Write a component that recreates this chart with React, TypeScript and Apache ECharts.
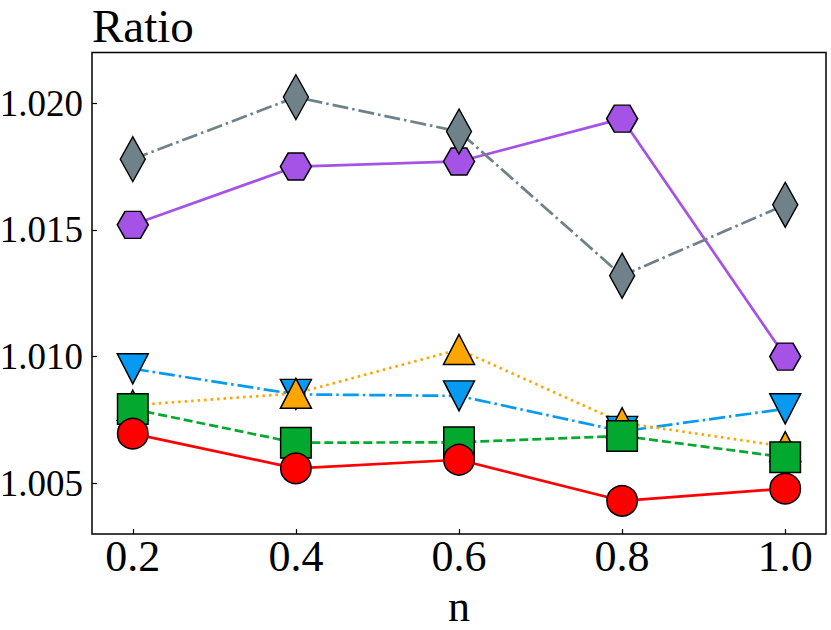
import React, { useEffect, useRef } from "react";
import * as echarts from "echarts";

const xValues = [0.2, 0.4, 0.6, 0.8, 1.0];
const redCircle = [1.00696, 1.00559, 1.00593, 1.00431, 1.00479];
const greenSquare = [1.00793, 1.0066, 1.00662, 1.00687, 1.00603];
const orangeTriUp = [1.00808, 1.00855, 1.01028, 1.00739, 1.00645];
const blueTriDown = [1.00952, 1.00851, 1.00845, 1.00705, 1.00794];
const purpleHex = [1.0152, 1.0175, 1.0177, 1.01939, 1.01];
const grayDiamond = [1.01779, 1.02024, 1.01888, 1.01319, 1.01599];

const xTicks = [0.2, 0.4, 0.6, 0.8, 1.0];
const yTicks = [1.005, 1.01, 1.015, 1.02];

const FONT = "'Liberation Serif', 'DejaVu Serif', serif";

const TRI_UP = "path://M1,0 L2,2 L0,2 Z";
const TRI_DOWN = "path://M0,0 L2,0 L1,2 Z";
const HEX = "path://M0,0.866 L0.5,0 L1.5,0 L2,0.866 L1.5,1.732 L0.5,1.732 Z";

function pairs(ys: number[]) {
  return ys.map((y, i) => [xValues[i], y]);
}

export default function App() {
  const ref = useRef<HTMLDivElement>(null);
  useEffect(() => {
    if (!ref.current) return;
    const chart = echarts.init(ref.current, undefined, { renderer: "svg" });
    const border = { borderColor: "#000", borderWidth: 1.5 };
    const mk = (
      name: string,
      data: number[],
      color: string,
      symbol: string,
      size: number | number[],
      type: any,
    ) => ({
      name,
      type: "line",
      data: pairs(data),
      symbol,
      symbolSize: size,
      showSymbol: true,
      clip: false,
      lineStyle: { color, width: 2.7, type },
      itemStyle: { color, ...border },
      emphasis: { disabled: true },
    });
    chart.setOption({
      animation: false,
      backgroundColor: "#fff",
      grid: {
        left: 92,
        top: 52.5,
        right: 5,
        bottom: 96,
        containLabel: false,
        outerBoundsMode: "none",
        show: true,
        borderColor: "#000",
        borderWidth: 1.5,
        backgroundColor: "transparent",
      },
      xAxis: {
        type: "value",
        min: 0.15,
        max: 1.05,
        name: "n",
        nameLocation: "middle",
        nameGap: 72.3,
        nameMoveOverlap: false,
        nameTextStyle: {
          fontFamily: FONT,
          fontSize: 44,
          color: "#000",
          verticalAlign: "middle",
        },
        axisLine: { show: false },
        axisTick: {
          show: true,
          inside: true,
          length: 5,
          customValues: xTicks,
          lineStyle: { color: "#000", width: 1.2 },
        },
        axisLabel: {
          customValues: xTicks,
          formatter: (v: number) => v.toFixed(1),
          fontFamily: FONT,
          fontSize: 44,
          color: "#000",
          margin: 0,
        },
        splitLine: { show: false },
      },
      yAxis: {
        type: "value",
        min: 1.003,
        max: 1.022,
        name: "Ratio",
        nameLocation: "end",
        nameGap: 26.4,
        nameMoveOverlap: false,
        nameTextStyle: {
          fontFamily: FONT,
          fontSize: 47,
          color: "#000",
          align: "left",
          verticalAlign: "middle",
        },
        axisLine: { show: false },
        axisTick: {
          show: true,
          inside: true,
          length: 5,
          customValues: yTicks,
          lineStyle: { color: "#000", width: 1.2 },
        },
        axisLabel: {
          customValues: yTicks,
          formatter: (v: number) => v.toFixed(3),
          fontFamily: FONT,
          fontSize: 37,
          color: "#000",
          margin: 9,
        },
        splitLine: { show: false },
      },
      series: [
        mk("hex", purpleHex, "#a552e6", HEX, [31, 27], "solid"),
        mk("diamond", grayDiamond, "#6f828a", "diamond", [25, 45], [16, 4, 2.5, 4]),
        mk("tridown", blueTriDown, "#069af3", TRI_DOWN, [31, 30], [16, 4, 2.5, 4]),
        mk("triup", orangeTriUp, "#ffa500", TRI_UP, [31, 30], [2.5, 4]),
        mk("square", greenSquare, "#02a92e", "rect", [30.5, 30.5], [9, 4]),
        mk("circle", redCircle, "#ff0000", "circle", 30.5, "solid"),
      ],
    });
    return () => chart.dispose();
  }, []);
  return (
    <div
      ref={ref}
      style={{ position: "fixed", left: 0, top: 0, width: 831, height: 630 }}
    />
  );
}
